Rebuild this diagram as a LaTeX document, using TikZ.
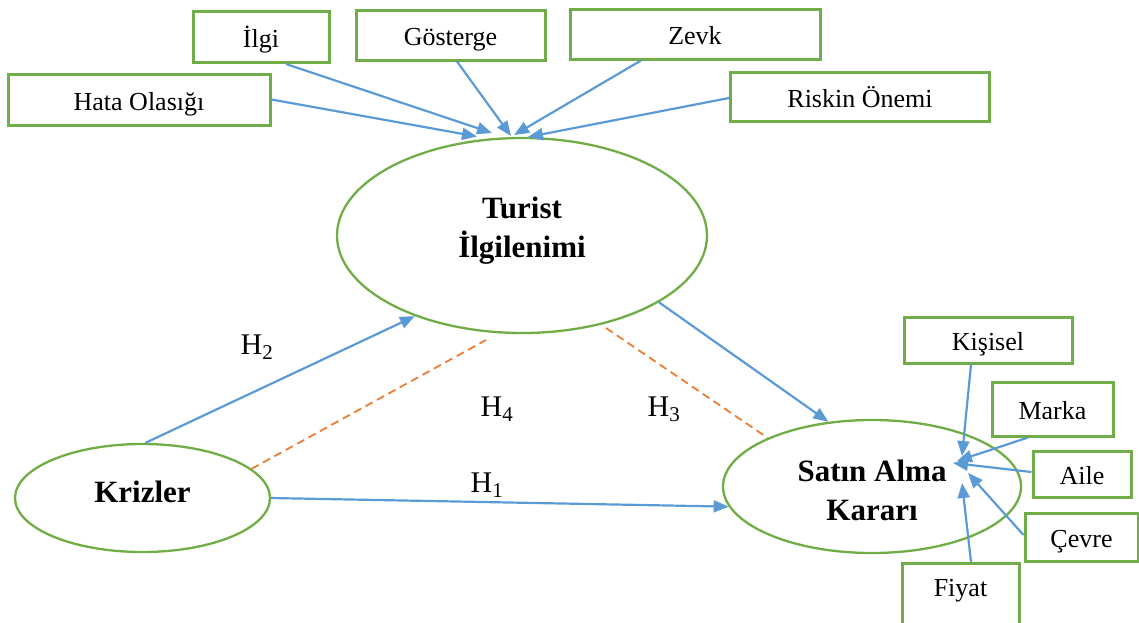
\documentclass[tikz,border=0pt]{standalone}
\usepackage{fontspec}
\setmainfont{Liberation Serif}
\usetikzlibrary{arrows.meta,calc,shapes.geometric}
\definecolor{grn}{HTML}{70AD47}
\definecolor{blu}{HTML}{5B9BD5}
\definecolor{org}{HTML}{ED7D31}
\tikzset{
 box/.style={draw=grn, line width=3pt, rectangle, inner sep=0pt, font=\fontsize{26}{30}\selectfont, text height=21pt, text depth=0pt},
 oval/.style={draw=grn, line width=2.3pt, ellipse, inner sep=0pt},
 otext/.style={font=\fontsize{31}{39}\selectfont\bfseries, align=center, inner sep=0pt},
 btext/.style={font=\fontsize{26}{30}\selectfont, inner sep=0pt, text height=21pt, text depth=0pt},
 hlab/.style={font=\fontsize{30}{34}\selectfont, inner sep=0pt},
 arr/.style={draw=blu, line width=2.2pt, -{Triangle[length=15pt,width=12pt]}},
 corr/.style={draw=org, line width=1.8pt, dash pattern=on 8pt off 5pt},
}
\begin{document}
\begin{tikzpicture}[x=1pt,y=-1pt]
\useasboundingbox (0,0) rectangle (1139,622);
\clip (0,0) rectangle (1139,622);
% boxes (top)
\node[box, minimum width=136pt, minimum height=51pt] (ilgi) at (261,37) {İlgi};
\node[box, minimum width=189pt, minimum height=50pt] (gosterge) at (450.5,35) {Gösterge};
\node[box, minimum width=250pt, minimum height=50pt] (zevk) at (695,34) {Zevk};
\node[box, minimum width=262pt, minimum height=51pt] (hata) at (139,99.5) {Hata Olasığı};
\node[box, minimum width=259pt, minimum height=49pt] (riskin) at (860,96.5) {Riskin Önemi};
% boxes (right)
\node[box, minimum width=168pt, minimum height=46pt] (kisisel) at (988,340) {Kişisel};
\node[box, minimum width=121pt, minimum height=54pt] (marka) at (1052.5,409) {Marka};
\node[box, minimum width=98pt, minimum height=46pt] (aile) at (1082,474) {Aile};
\node[box, minimum width=113pt, minimum height=48pt] (cevre) at (1081.5,537) {Çevre};
\node[box, minimum width=117pt, minimum height=70pt, anchor=north] (fiyat) at (960.5,562) {};
\node[btext] (fiyatt) at (960.5,586) {Fiyat};
% ellipses
\node[oval, minimum width=370pt, minimum height=195pt] (turist) at (522,235.5) {};
\node[otext] (turistt) at (522,231) {Turist\\İlgilenimi};
\node[oval, minimum width=255pt, minimum height=108pt] (krizler) at (142.5,498) {};
\node[otext] (krizlert) at (142.5,492) {Krizler};
\node[oval, minimum width=298pt, minimum height=133pt] (satin) at (872,486.5) {};
\node[otext] (satint) at (872,490) {Satın Alma\\Kararı};
% tips
\coordinate (t1) at (477,136.5);
\coordinate (t2) at (492,133);
\coordinate (t3) at (511,136);
\coordinate (t4) at (514,135);
\coordinate (t5) at (528,137);
\coordinate (r1) at (962,456);
\coordinate (r2) at (957,461);
\coordinate (r3) at (953,463);
\coordinate (r4) at (968,473);
\coordinate (r5) at (962,483);
\coordinate (d1) at (486,340);
\coordinate (d2) at (606,328);
% top arrows
\draw[arr] (hata.east) -- (t1);
\draw[arr] ($(ilgi.south)+(25,0)$) -- (t2);
\draw[arr] ($(gosterge.south)+(6.5,0)$) -- (t3);
\draw[arr] ($(zevk.south)+(-54,0)$) -- (t4);
\draw[arr] ($(riskin.west)+(0,1.5)$) -- (t5);
% right arrows
\draw[arr] ($(kisisel.south)+(-17,0)$) -- (r1);
\draw[arr] ($(marka.south)+(-24.5,0)$) -- (r2);
\draw[arr] ($(aile.west)+(0,-2)$) -- (r3);
\draw[arr] ($(cevre.west)+(0,-2)$) -- (r4);
\draw[arr] ($(fiyat.north)+(10.5,0)$) -- (r5);
% main paths
\draw[arr] (krizler.87) -- (turist.217);
\draw[arr] (krizler.east) -- (satin.188.3);
\draw[arr] (turist.-26) -- (satin.124);
\draw[corr] (krizler.15) -- (d1);
\draw[corr] (d2) -- (satin.155.2);
% labels
\node[hlab] (h2) at (257,347) {H\textsubscript{2}};
\node[hlab] (h4) at (497,409) {H\textsubscript{4}};
\node[hlab] (h3) at (664,409) {H\textsubscript{3}};
\node[hlab] (h1) at (487,485) {H\textsubscript{1}};
\end{tikzpicture}
\end{document}
